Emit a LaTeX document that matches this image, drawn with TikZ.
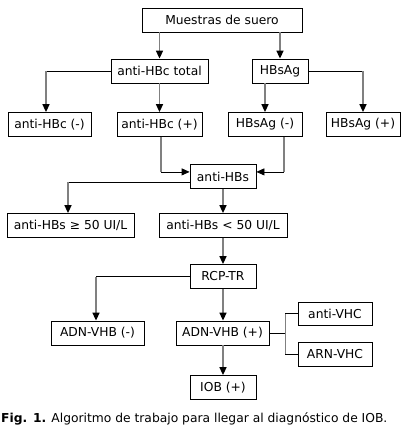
\documentclass[tikz,border=0pt]{standalone}
\usepackage{fontspec}
\setmainfont{DejaVu Sans}
\usetikzlibrary{arrows.meta,calc}
\definecolor{vline}{RGB}{128,128,128}

\begin{document}
\begin{tikzpicture}[
  x=1pt,y=-1pt,
  box/.style={draw,line width=0.8pt,minimum height=24pt,inner sep=0pt,
    font=\fontsize{12.3}{14}\selectfont},
  down/.style={draw=vline,line width=1.6pt,
    -{Triangle[color=black,length=8pt,width=7pt]}},
  hline/.style={draw=black,line width=0.8pt},
  side/.style={hline,-{Triangle[length=8pt,width=7pt]}},
  gline/.style={draw=vline,line width=1.6pt}
]
  \useasboundingbox (0,0) rectangle (420,440);
  % Row 0 and 1
  \node[box,minimum width=160pt] (muestras) at (222,20) {Muestras de suero};
  \node[box,minimum width=97pt] (hbctot) at (159.5,71) {anti-HBc total};
  \node[box,minimum width=56pt] (hbsag) at (280,71) {HBsAg};
  % Row 2
  \node[box,minimum width=83pt] (hbcneg) at (49.5,124.5) {anti-HBc (-)};
  \node[box,minimum width=85pt] (hbcpos) at (159.5,124.5) {anti-HBc (+)};
  \node[box,minimum width=74pt] (hbsneg) at (265,124.5) {HBsAg (-)};
  \node[box,minimum width=74pt] (hbspos) at (363,124.5) {HBsAg (+)};
  % Row 3 and 4
  \node[box,minimum width=66pt] (antihbs) at (223,176.5) {anti-HBs};
  \node[box,minimum width=127pt] (hbsge) at (70.5,225.5) {anti-HBs ≥ 50 UI/L};
  \node[box,minimum width=128pt] (hbslt) at (223,225.5) {anti-HBs < 50 UI/L};
  % Row 5 and 6
  \node[box,minimum width=66pt] (rcp) at (223,276.5) {RCP-TR};
  \node[box,minimum width=93pt] (adnneg) at (97.5,333) {ADN-VHB (-)};
  \node[box,minimum width=93pt] (adnpos) at (222.5,333) {ADN-VHB (+)};
  \node[box,minimum width=74pt,minimum height=23pt] (antivhc) at (335,313.5) {anti-VHC};
  \node[box,minimum width=74pt] (arnvhc) at (335,354.5) {ARN-VHC};
  \node[box,minimum width=66pt] (iob) at (223,387.5) {IOB (+)};
  \node[anchor=west,inner sep=0pt,font=\fontsize{12.3}{14}\selectfont] (caption) at (1,419)
    {\textbf{Fig. 1.} Algoritmo de trabajo para llegar al diagnóstico de IOB.};

  % connectors
  \draw[down] (muestras.south -| hbctot) -- (hbctot.north);
  \draw[down] (muestras.south -| hbsag) -- (hbsag.north);
  \coordinate (c1) at ([xshift=-3.5pt]hbcneg.north |- hbctot.west);
  \draw[hline] (hbctot.west) -- (c1);
  \draw[down] (c1) -- ([xshift=-3.5pt]hbcneg.north);
  \draw[down] (hbctot) -- (hbcpos);
  \draw[down] (hbsag.south -| hbsneg) -- (hbsneg.north);
  \coordinate (c2) at (hbspos.north |- hbsag.east);
  \draw[hline] (hbsag.east) -- (c2);
  \draw[down] (c2) -- (hbspos.north);
  \coordinate (c3) at ($(hbcpos.south)+(1.5,35)$);
  \coordinate (c4) at ($(hbsneg.south)+(19,35)$);
  \draw[gline] ($(hbcpos.south)+(1.5,0)$) -- (c3);
  \draw[side] (c3) -- (c3 -| antihbs.west);
  \draw[gline] ($(hbsneg.south)+(19,0)$) -- (c4);
  \draw[side] (c4) -- (c4 -| antihbs.east);
  \coordinate (c5) at ($(hbsge.north |- antihbs.west)+(-2.5,5.5)$);
  \draw[hline] (c5 -| antihbs.west) -- (c5);
  \draw[down] (c5) -- (c5 |- hbsge.north);
  \draw[down] (antihbs) -- (hbslt);
  \draw[down] (hbslt) -- (rcp);
  \coordinate (c6) at ([xshift=-1.5pt]adnneg.north |- rcp.west);
  \draw[hline] (rcp.west) -- (c6);
  \draw[down] (c6) -- ([xshift=-1.5pt]adnneg.north);
  \draw[down] (rcp.south) -- (rcp.south |- adnpos.north);
  \draw[down] (adnpos.south -| iob) -- (iob.north);
  % bracket to the VHC tests
  \coordinate (c7) at ($(adnpos.east)+(16,0)$);
  \draw[hline] (adnpos.east) -- (c7);
  \draw[gline] (c7 |- antivhc.west) -- (c7 |- arnvhc.west);
  \draw[hline] (c7 |- antivhc.west) -- (antivhc.west);
  \draw[hline] (c7 |- arnvhc.west) -- (arnvhc.west);
\end{tikzpicture}
\end{document}
